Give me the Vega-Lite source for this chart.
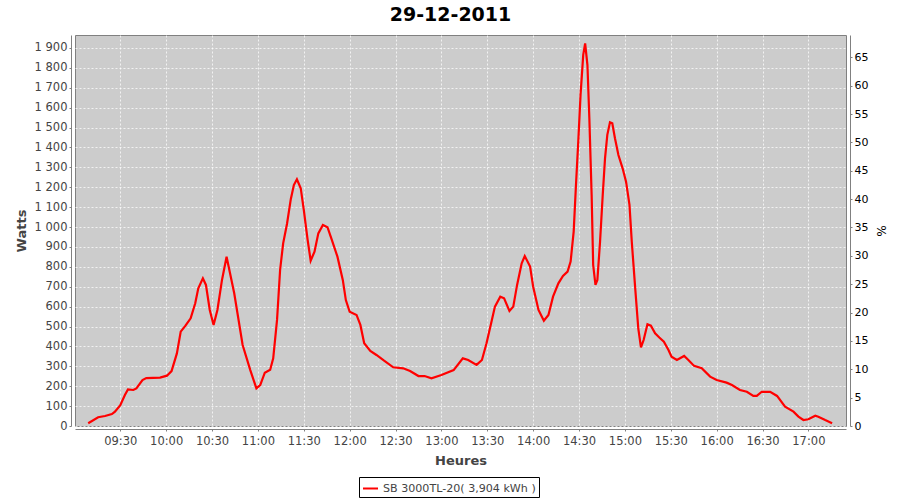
{
  "$schema": "https://vega.github.io/schema/vega-lite/v6.json",
  "autosize": "none",
  "width": 771,
  "height": 391,
  "padding": {"left": 75, "top": 35, "right": 54, "bottom": 74},
  "background": "#ffffff",
  "title": {"text": "29-12-2011", "font": "DejaVu Sans", "fontSize": 19, "fontWeight": "bold", "color": "#000000", "anchor": "middle", "dx": -10, "offset": 10},
  "config": {
    "font": "DejaVu Sans",
    "view": {"fill": "#cccccc", "stroke": "#808080", "strokeWidth": 1},
    "axis": {
      "labelFont": "DejaVu Sans", "labelFontSize": 11.5, "labelColor": "#444444",
      "titleFont": "DejaVu Sans", "titleFontSize": 13, "titleFontWeight": "bold", "titleColor": "#444444",
      "domainColor": "#808080", "tickColor": "#808080", "tickSize": 2,
      "gridColor": "#ffffff", "gridDash": [2, 2], "gridWidth": 1, "gridOpacity": 0.75,
      "labelPadding": 2, "titlePadding": 6
    }
  },
  "data": {"values": [
    {"t":"2011-12-29T09:09:00","w":14},{"t":"2011-12-29T09:15:30","w":44},{"t":"2011-12-29T09:20:00","w":50},
    {"t":"2011-12-29T09:24:30","w":60},{"t":"2011-12-29T09:26:30","w":72},{"t":"2011-12-29T09:30:00","w":105},
    {"t":"2011-12-29T09:33:00","w":156},{"t":"2011-12-29T09:35:00","w":184},{"t":"2011-12-29T09:38:30","w":181},
    {"t":"2011-12-29T09:40:30","w":189},{"t":"2011-12-29T09:44:30","w":231},{"t":"2011-12-29T09:47:00","w":241},
    {"t":"2011-12-29T09:56:00","w":243},{"t":"2011-12-29T10:00:30","w":253},{"t":"2011-12-29T10:03:30","w":276},
    {"t":"2011-12-29T10:07:00","w":365},{"t":"2011-12-29T10:09:30","w":474},{"t":"2011-12-29T10:12:30","w":503},
    {"t":"2011-12-29T10:16:00","w":541},{"t":"2011-12-29T10:19:00","w":617},{"t":"2011-12-29T10:21:00","w":692},
    {"t":"2011-12-29T10:24:00","w":742},{"t":"2011-12-29T10:26:00","w":709},{"t":"2011-12-29T10:28:30","w":583},
    {"t":"2011-12-29T10:31:00","w":508},{"t":"2011-12-29T10:33:30","w":583},{"t":"2011-12-29T10:36:30","w":734},
    {"t":"2011-12-29T10:39:30","w":851},{"t":"2011-12-29T10:44:30","w":667},{"t":"2011-12-29T10:50:00","w":407},
    {"t":"2011-12-29T10:55:00","w":281},{"t":"2011-12-29T10:59:00","w":189},{"t":"2011-12-29T11:01:30","w":206},
    {"t":"2011-12-29T11:04:30","w":268},{"t":"2011-12-29T11:08:00","w":283},{"t":"2011-12-29T11:10:00","w":340},
    {"t":"2011-12-29T11:12:30","w":533},{"t":"2011-12-29T11:14:30","w":784},{"t":"2011-12-29T11:16:30","w":918},
    {"t":"2011-12-29T11:19:00","w":1015},{"t":"2011-12-29T11:21:30","w":1140},{"t":"2011-12-29T11:23:30","w":1211},
    {"t":"2011-12-29T11:25:30","w":1240},{"t":"2011-12-29T11:28:00","w":1195},{"t":"2011-12-29T11:30:00","w":1086},
    {"t":"2011-12-29T11:32:30","w":935},{"t":"2011-12-29T11:34:30","w":831},{"t":"2011-12-29T11:37:00","w":876},
    {"t":"2011-12-29T11:39:30","w":968},{"t":"2011-12-29T11:42:30","w":1010},{"t":"2011-12-29T11:45:30","w":999},
    {"t":"2011-12-29T11:48:00","w":943},{"t":"2011-12-29T11:52:00","w":851},{"t":"2011-12-29T11:55:30","w":734},
    {"t":"2011-12-29T11:57:30","w":633},{"t":"2011-12-29T12:00:00","w":574},{"t":"2011-12-29T12:04:30","w":558},
    {"t":"2011-12-29T12:07:00","w":508},{"t":"2011-12-29T12:09:30","w":416},{"t":"2011-12-29T12:13:30","w":377},
    {"t":"2011-12-29T12:17:30","w":357},{"t":"2011-12-29T12:22:30","w":328},{"t":"2011-12-29T12:28:30","w":295},
    {"t":"2011-12-29T12:35:00","w":290},{"t":"2011-12-29T12:39:30","w":276},{"t":"2011-12-29T12:45:00","w":251},
    {"t":"2011-12-29T12:49:00","w":251},{"t":"2011-12-29T12:53:30","w":240},{"t":"2011-12-29T13:00:00","w":256},
    {"t":"2011-12-29T13:08:00","w":281},{"t":"2011-12-29T13:14:00","w":340},{"t":"2011-12-29T13:17:30","w":332},
    {"t":"2011-12-29T13:23:00","w":307},{"t":"2011-12-29T13:26:30","w":332},{"t":"2011-12-29T13:29:30","w":416},
    {"t":"2011-12-29T13:33:00","w":533},{"t":"2011-12-29T13:35:00","w":600},{"t":"2011-12-29T13:38:30","w":650},
    {"t":"2011-12-29T13:41:00","w":642},{"t":"2011-12-29T13:44:30","w":578},{"t":"2011-12-29T13:47:00","w":600},
    {"t":"2011-12-29T13:49:30","w":709},{"t":"2011-12-29T13:52:30","w":818},{"t":"2011-12-29T13:54:30","w":854},
    {"t":"2011-12-29T13:58:00","w":801},{"t":"2011-12-29T14:00:00","w":700},{"t":"2011-12-29T14:03:30","w":583},
    {"t":"2011-12-29T14:07:00","w":529},{"t":"2011-12-29T14:10:00","w":558},{"t":"2011-12-29T14:13:00","w":650},
    {"t":"2011-12-29T14:16:30","w":717},{"t":"2011-12-29T14:19:30","w":754},{"t":"2011-12-29T14:22:30","w":776},
    {"t":"2011-12-29T14:24:30","w":826},{"t":"2011-12-29T14:26:30","w":977},{"t":"2011-12-29T14:28:00","w":1211},
    {"t":"2011-12-29T14:29:30","w":1429},{"t":"2011-12-29T14:31:00","w":1664},{"t":"2011-12-29T14:32:45","w":1865},
    {"t":"2011-12-29T14:34:00","w":1923},{"t":"2011-12-29T14:35:30","w":1814},{"t":"2011-12-29T14:36:45","w":1547},
    {"t":"2011-12-29T14:38:15","w":1161},{"t":"2011-12-29T14:39:15","w":809},{"t":"2011-12-29T14:40:45","w":709},
    {"t":"2011-12-29T14:42:00","w":734},{"t":"2011-12-29T14:43:45","w":926},{"t":"2011-12-29T14:45:30","w":1161},
    {"t":"2011-12-29T14:47:00","w":1345},{"t":"2011-12-29T14:48:30","w":1463},{"t":"2011-12-29T14:50:15","w":1526},
    {"t":"2011-12-29T14:51:45","w":1521},{"t":"2011-12-29T14:53:30","w":1446},{"t":"2011-12-29T14:55:45","w":1362},
    {"t":"2011-12-29T14:58:30","w":1295},{"t":"2011-12-29T15:00:45","w":1228},{"t":"2011-12-29T15:03:00","w":1111},
    {"t":"2011-12-29T15:04:30","w":926},{"t":"2011-12-29T15:06:45","w":692},{"t":"2011-12-29T15:08:45","w":491},
    {"t":"2011-12-29T15:10:30","w":395},{"t":"2011-12-29T15:12:15","w":432},{"t":"2011-12-29T15:14:45","w":511},
    {"t":"2011-12-29T15:17:00","w":504},{"t":"2011-12-29T15:19:45","w":466},{"t":"2011-12-29T15:22:30","w":445},
    {"t":"2011-12-29T15:25:30","w":424},{"t":"2011-12-29T15:28:30","w":382},{"t":"2011-12-29T15:30:30","w":348},
    {"t":"2011-12-29T15:34:00","w":332},{"t":"2011-12-29T15:38:45","w":352},{"t":"2011-12-29T15:41:30","w":332},
    {"t":"2011-12-29T15:45:15","w":302},{"t":"2011-12-29T15:50:15","w":290},{"t":"2011-12-29T15:55:45","w":248},
    {"t":"2011-12-29T16:00:00","w":231},{"t":"2011-12-29T16:06:30","w":218},{"t":"2011-12-29T16:10:00","w":206},
    {"t":"2011-12-29T16:15:15","w":181},{"t":"2011-12-29T16:19:45","w":172},{"t":"2011-12-29T16:24:00","w":151},
    {"t":"2011-12-29T16:26:15","w":151},{"t":"2011-12-29T16:29:30","w":172},{"t":"2011-12-29T16:35:00","w":172},
    {"t":"2011-12-29T16:39:30","w":151},{"t":"2011-12-29T16:44:45","w":97},{"t":"2011-12-29T16:50:15","w":72},
    {"t":"2011-12-29T16:53:30","w":47},{"t":"2011-12-29T16:56:45","w":30},{"t":"2011-12-29T17:00:00","w":34},
    {"t":"2011-12-29T17:04:30","w":52},{"t":"2011-12-29T17:06:30","w":47},{"t":"2011-12-29T17:11:00","w":30},
    {"t":"2011-12-29T17:15:30","w":14}
  ]},
  "encoding": {
    "x": {
      "field": "t", "type": "temporal", "title": "Heures",
      "scale": {"domain": [
        {"year": 2011, "month": 12, "date": 29, "hours": 9, "minutes": 0, "seconds": 22},
        {"year": 2011, "month": 12, "date": 29, "hours": 17, "minutes": 24, "seconds": 36}
      ]},
      "axis": {"format": "%H:%M", "tickCount": 20, "offset": 3, "grid": true, "labelPadding": 4, "titlePadding": 8}
    }
  },
  "layer": [
    {
      "mark": {"type": "line", "strokeWidth": 2.2, "clip": true},
      "encoding": {
        "y": {
          "field": "w", "type": "quantitative", "title": "Watts",
          "scale": {"domain": [0, 1965], "nice": false},
          "axis": {"values": [0,100,200,300,400,500,600,700,800,900,1000,1100,1200,1300,1400,1500,1600,1700,1800,1900],
                   "labelExpr": "datum.value >= 1000 ? floor(datum.value / 1000) + ' ' + format(datum.value % 1000, '03d') : format(datum.value, 'd')",
                   "offset": 4, "grid": true}
        },
        "color": {
          "datum": "SB 3000TL-20( 3,904 kWh )",
          "scale": {"range": ["#ff0000"]},
          "legend": {
            "title": null, "orient": "none", "legendX": 284, "legendY": 442,
            "symbolType": "stroke", "symbolSize": 225, "symbolStrokeWidth": 2,
            "labelFont": "DejaVu Sans", "labelFontSize": 11.1, "labelColor": "#444444",
            "strokeColor": "#000000", "padding": 3, "cornerRadius": 0
          }
        }
      }
    },
    {
      "mark": {"type": "line", "opacity": 0, "clip": true},
      "encoding": {
        "y": {
          "field": "w", "type": "quantitative", "title": "%",
          "scale": {"domain": [0, 68.93], "nice": false},
          "axis": {"orient": "right", "values": [0,5,10,15,20,25,30,35,40,45,50,55,60,65], "offset": 4, "grid": false,
                   "titleFontWeight": "normal", "titleFontSize": 12, "titleColor": "#000000", "labelColor": "#000000", "labelFontSize": 11}
        }
      }
    }
  ],
  "resolve": {"scale": {"y": "independent"}}
}
